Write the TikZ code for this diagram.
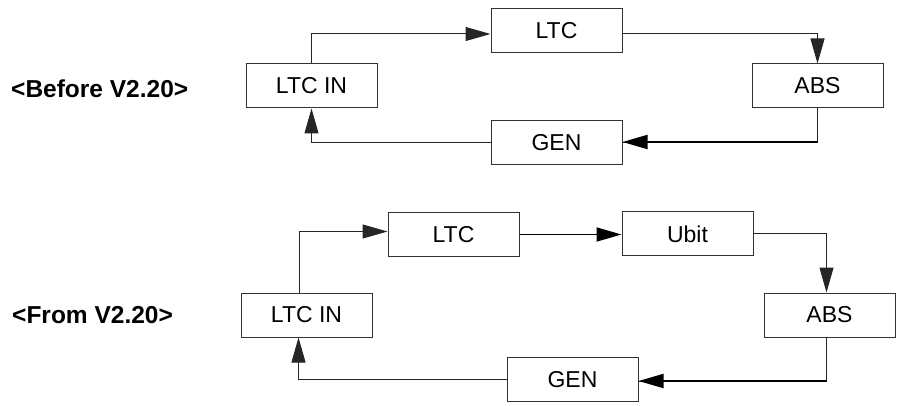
\documentclass[tikz,border=0pt]{standalone}
\usepackage{fontspec}
\setmainfont{Liberation Sans}
\usetikzlibrary{arrows.meta}
\begin{document}
\begin{tikzpicture}[x=1pt,y=-1pt,
  box/.style={draw=black!80, line width=1pt, minimum width=131pt, minimum height=44pt, inner sep=0pt, font=\fontsize{23}{27}\selectfont},
  lbl/.style={anchor=west, inner sep=0pt, font=\fontsize{24.5}{28}\selectfont\bfseries},
  conn/.style={draw=black!85, line width=1pt},
  thick conn/.style={draw=black, line width=1.8pt},
  arr/.style={-{Triangle[length=25pt,width=14pt]}}]
\useasboundingbox (0,0) rectangle (897,406);
% labels
\node[lbl] (before) at (11,89) {<Before V2.20>};
\node[lbl] (from) at (12,315) {<From V2.20>};
% top diagram
\node[box] (ltcinA) at (311.5,86) {LTC IN};
\node[box] (ltcA) at (556.5,31) {LTC};
\node[box] (absA) at (817.5,86) {ABS};
\node[box] (genA) at (556.5,143) {GEN};
\draw[conn,arr] (ltcinA.north) |- ([yshift=-3pt]ltcA.west);
\draw[conn,arr] ([yshift=-3pt]ltcA.east) -| (absA.north);
\draw[conn] (absA.south) |- (genA.east);
\draw[thick conn,arr] ([yshift=1pt]genA.east -| absA.south) -- ([yshift=1pt]genA.east);
\draw[conn,arr] (genA.west) -| (ltcinA.south);
% bottom diagram
\node[box] (ltcinB) at (306.5,315) {LTC IN};
\node[box] (ltcB) at (453.5,234.5) {LTC};
\node[box] (ubitB) at (687.5,234) {Ubit};
\node[box] (absB) at (829.5,315) {ABS};
\node[box] (genB) at (572.5,379.5) {GEN};
\draw[conn,arr] ([xshift=-7pt]ltcinB.north) |- ([yshift=3pt]ltcB.west);
\draw[thick conn,arr] (ltcB.east) -- (ltcB.east -| ubitB.west);
\draw[conn,arr] (ubitB.east) -| ([xshift=-3pt]absB.north);
\draw[conn] ([xshift=-3pt]absB.south) |- ([yshift=-1.5pt]genB.east);
\draw[thick conn,arr] ([xshift=-3pt,yshift=-1.5pt]genB.east -| absB.south) -- ([yshift=-1.5pt]genB.east);
\draw[conn,arr] (genB.west) -| ([xshift=-8pt]ltcinB.south);
\end{tikzpicture}
\end{document}
